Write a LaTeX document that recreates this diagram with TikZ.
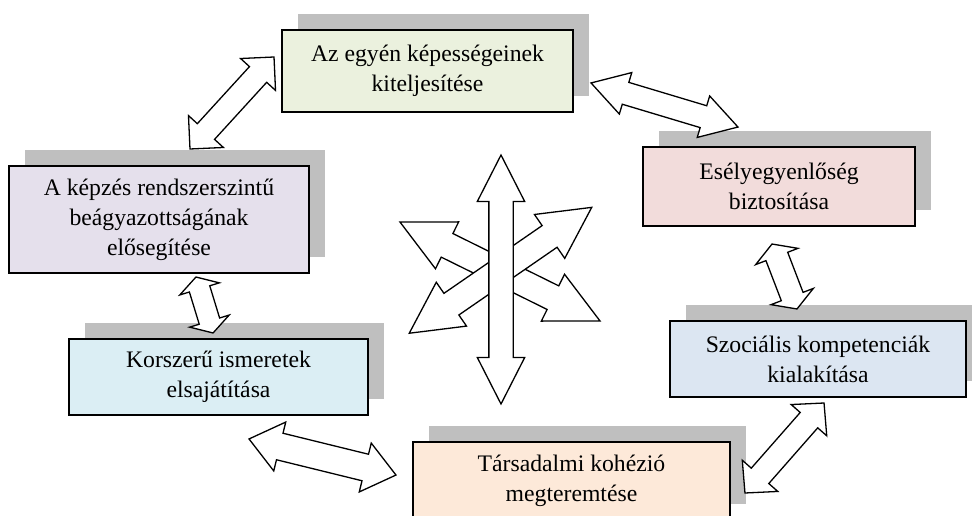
\documentclass[tikz,border=0pt]{standalone}
\usepackage{fontspec}
\setmainfont{Liberation Serif}
\usetikzlibrary{shapes.arrows,shadows}

\definecolor{shadowgray}{RGB}{191,191,191}
\definecolor{egyenfill}{RGB}{235,241,222}
\definecolor{eselyfill}{RGB}{242,220,219}
\definecolor{kepzesfill}{RGB}{229,224,236}
\definecolor{korszerufill}{RGB}{219,238,244}
\definecolor{szocfill}{RGB}{220,230,242}
\definecolor{tarsfill}{RGB}{253,233,217}

\tikzset{%
  goal/.style={
    rectangle,
    draw,
    line width=1.6pt,
    align=center,
    inner sep=0pt,
    font=\fontsize{23.7}{30}\selectfont,
    general shadow={fill=shadowgray, draw=none, shadow xshift=16pt, shadow yshift=16pt}
  },
  link/.style={
    double arrow,
    draw,
    fill=white,
    line width=1.3pt,
    inner xsep=0pt
  },
}

\begin{document}
\begin{tikzpicture}[x=1pt,y=-1pt]
\useasboundingbox (0,0) rectangle (972,516);
\node[goal, fill=egyenfill, minimum width=291pt, minimum height=82pt] (egyen) at (427.5,71) {Az egyén képességeinek\\kiteljesítése};
\node[goal, fill=eselyfill, minimum width=272pt, minimum height=79pt] (esely) at (779,186.5) {Esélyegyenlőség\\biztosítása};
\node[goal, fill=kepzesfill, minimum width=300pt, minimum height=107pt] (kepzes) at (159,219.5) {A képzés rendszerszintű\\beágyazottságának\\elősegítése};
\node[goal, fill=korszerufill, minimum width=299pt, minimum height=76pt] (korszeru) at (218.5,377) {Korszerű ismeretek\\elsajátítása};
\node[goal, fill=szocfill, minimum width=296pt, minimum height=76pt] (szoc) at (818,359) {Szociális kompetenciák\\kialakítása};
\node[goal, fill=tarsfill, minimum width=317pt, minimum height=78pt] (tars) at (571.5,481) {Társadalmi kohézió\\megteremtése};
\node[link, minimum height=124.6pt, inner ysep=11pt, double arrow head extend=12pt, double arrow tip angle=90, rotate=47.6] (kepzes-egyen) at (232,103) {};
\node[link, minimum height=153.4pt, inner ysep=10.75pt, double arrow head extend=10.25pt, double arrow tip angle=62, rotate=-16.7] (egyen-esely) at (664.5,105) {};
\node[link, minimum height=69.6pt, inner ysep=11pt, double arrow head extend=11pt, double arrow tip angle=119, rotate=-69] (esely-szoc) at (784.5,276.5) {};
\node[link, minimum height=119.8pt, inner ysep=11pt, double arrow head extend=12pt, double arrow tip angle=92, rotate=48.7] (szoc-tars) at (784.5,448) {};
\node[link, minimum height=151.3pt, inner ysep=13pt, double arrow head extend=11.5pt, double arrow tip angle=77, rotate=-13.8] (korszeru-tars) at (322.5,457) {};
\node[link, minimum height=58.5pt, inner ysep=10pt, double arrow head extend=10pt, double arrow tip angle=118, rotate=-73] (kepzes-korszeru) at (204.5,305) {};
\node[link, minimum height=223pt, inner ysep=12.5pt, double arrow head extend=13pt, double arrow tip angle=53, rotate=-26.3] (hub-a) at (500,271.5) {};
\node[link, minimum height=221.7pt, inner ysep=12.5pt, double arrow head extend=13.5pt, double arrow tip angle=55, rotate=34.6] (hub-b) at (500.5,270.3) {};
\node[link, minimum height=249pt, inner ysep=11.5pt, double arrow head extend=11.5pt, double arrow tip angle=54, rotate=90] (hub-v) at (501,279.5) {};
\end{tikzpicture}
\end{document}
